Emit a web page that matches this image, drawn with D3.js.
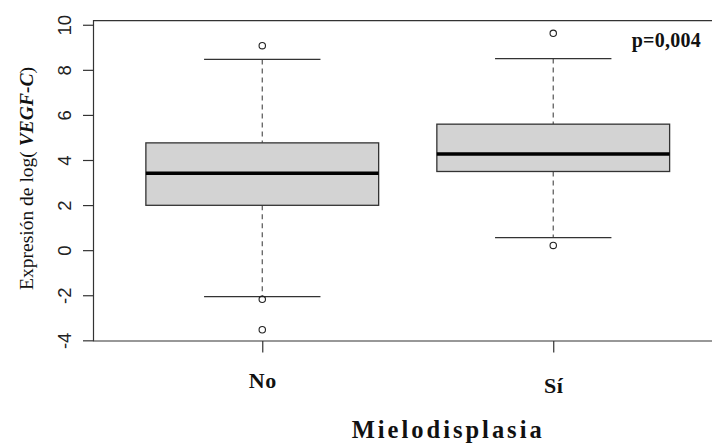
<!DOCTYPE html>
<html>
<head>
<meta charset="utf-8">
<script src="https://cdn.jsdelivr.net/npm/d3@7/dist/d3.min.js"></script>
<style>
  html, body { margin: 0; padding: 0; background: #fff; }
  svg { display: block; }
</style>
</head>
<body>
<svg id="chart" width="712" height="444"></svg>
<script>
/* ---------- data ---------- */
const groups = ["No", "Sí"];
const q1 = [1.99, 3.49];
const medians = [3.41, 4.27];
const q3 = [4.76, 5.59];
const whiskerLow = [-2.06, 0.56];
const whiskerHigh = [8.46, 8.50];
const outliers = [[9.07, -2.18, -3.53], [9.62, 0.21]];
const yTicks = [-4, -2, 0, 2, 4, 6, 8, 10];
const yLimits = [-4.03, 10.18];
const pLabel = "p=0,004";

/* ---------- layout ---------- */
const svg = d3.select("#chart");
const plotLeft = 93.5, plotRight = 722, plotTop = 20.7, plotBottom = 341;
const ink = "#333";
const serif = "'Liberation Serif', 'Times New Roman', serif";

// R-style: positions 1..n, xlim (0.5, n+0.5) padded by 4%
const pad = 0.04 * groups.length;
const x = d3.scaleLinear()
  .domain([0.5 - pad, groups.length + 0.5 + pad])
  .range([plotLeft, plotRight]);
const y = d3.scaleLinear().domain(yLimits).range([plotBottom, plotTop]);
const boxW = x(1.4) - x(1);     // half of 0.8 box width
const capW = boxW / 2;

// frame (left, top, bottom)
svg.append("path")
  .attr("d", `M${plotRight},${plotTop}H${plotLeft}V${plotBottom}H${plotRight}`)
  .attr("fill", "none").attr("stroke", ink).attr("stroke-width", 1.2);

/* ---------- y axis ---------- */
const yAxis = svg.append("g")
  .attr("transform", `translate(${plotLeft},0)`)
  .call(d3.axisLeft(y).tickValues(yTicks).tickSize(10.5).tickFormat(d => String(d)));
yAxis.select(".domain").remove();
yAxis.selectAll(".tick line").attr("stroke", ink).attr("stroke-width", 1.2);
yAxis.selectAll(".tick text")
  .attr("transform", "rotate(-90)")
  .attr("x", 0).attr("y", -23).attr("dy", null)
  .attr("text-anchor", "middle")
  .attr("fill", "#222")
  .style("font-family", "'Liberation Sans', Arial, sans-serif")
  .style("font-size", "18.5px");

/* ---------- x axis ---------- */
const labelDrop = [47, 52];
const xAxis = svg.append("g")
  .attr("transform", `translate(0,${plotBottom})`)
  .call(d3.axisBottom(x).tickValues(groups.map((g, i) => i + 1)).tickSize(11.5)
    .tickFormat(d => groups[d - 1]));
xAxis.select(".domain").remove();
xAxis.selectAll(".tick line").attr("stroke", ink).attr("stroke-width", 1.2);
xAxis.selectAll(".tick text")
  .attr("y", (d, i) => labelDrop[i]).attr("dy", null)
  .attr("fill", "#111")
  .style("font-family", serif)
  .style("font-weight", "bold")
  .style("letter-spacing", "0.5px")
  .style("font-size", "22px");

/* ---------- boxes ---------- */
const boxes = svg.append("g").selectAll("g")
  .data(groups.map((g, i) => ({ i, pos: i + 1 })))
  .join("g");

// dashed whiskers
boxes.append("line")
  .attr("x1", d => x(d.pos)).attr("x2", d => x(d.pos))
  .attr("y1", d => y(whiskerHigh[d.i])).attr("y2", d => y(q3[d.i]))
  .attr("stroke", "#555").attr("stroke-width", 1.2).attr("stroke-dasharray", "5,4");
boxes.append("line")
  .attr("x1", d => x(d.pos)).attr("x2", d => x(d.pos))
  .attr("y1", d => y(q1[d.i])).attr("y2", d => y(whiskerLow[d.i]))
  .attr("stroke", "#555").attr("stroke-width", 1.2).attr("stroke-dasharray", "5,4");

// caps
[whiskerHigh, whiskerLow].forEach(arr => {
  boxes.append("line")
    .attr("x1", d => x(d.pos) - capW).attr("x2", d => x(d.pos) + capW)
    .attr("y1", d => y(arr[d.i])).attr("y2", d => y(arr[d.i]))
    .attr("stroke", ink).attr("stroke-width", 1.3);
});

// box body
boxes.append("rect")
  .attr("x", d => x(d.pos) - boxW)
  .attr("width", 2 * boxW)
  .attr("y", d => y(q3[d.i]))
  .attr("height", d => y(q1[d.i]) - y(q3[d.i]))
  .attr("fill", "#d3d3d3").attr("stroke", ink).attr("stroke-width", 1.3);

// median
boxes.append("line")
  .attr("x1", d => x(d.pos) - boxW).attr("x2", d => x(d.pos) + boxW)
  .attr("y1", d => y(medians[d.i])).attr("y2", d => y(medians[d.i]))
  .attr("stroke", "#000").attr("stroke-width", 3.5);

// outliers
boxes.selectAll("circle")
  .data(d => outliers[d.i].map(v => ({ pos: d.pos, v })))
  .join("circle")
  .attr("cx", d => x(d.pos)).attr("cy", d => y(d.v))
  .attr("r", 3.2)
  .attr("fill", "none").attr("stroke", "#222").attr("stroke-width", 1.1);

/* ---------- labels ---------- */
const yTitle = svg.append("text")
  .attr("transform", "translate(32.5,178.5) rotate(-90)")
  .attr("text-anchor", "middle")
  .attr("textLength", 223).attr("lengthAdjust", "spacing")
  .attr("fill", "#111")
  .style("font-family", serif)
  .style("font-size", "19.5px");
yTitle.append("tspan").text("Expresión de log( ");
yTitle.append("tspan").style("font-style", "italic").style("font-weight", "bold").text("VEGF-C");
yTitle.append("tspan").text(")");

svg.append("text")
  .attr("x", 446.7).attr("y", 437.5)
  .attr("text-anchor", "middle")
  .attr("textLength", 190).attr("lengthAdjust", "spacing")
  .attr("fill", "#111")
  .style("font-family", serif)
  .style("font-weight", "bold")
  .style("font-size", "24.5px")
  .text("Mielodisplasia");

svg.append("text")
  .attr("x", 631.7).attr("y", 46.7)
  .attr("textLength", 69).attr("lengthAdjust", "spacing")
  .attr("fill", "#111")
  .style("font-family", serif)
  .style("font-weight", "bold")
  .style("font-size", "20px")
  .text(pLabel);
</script>
</body>
</html>
